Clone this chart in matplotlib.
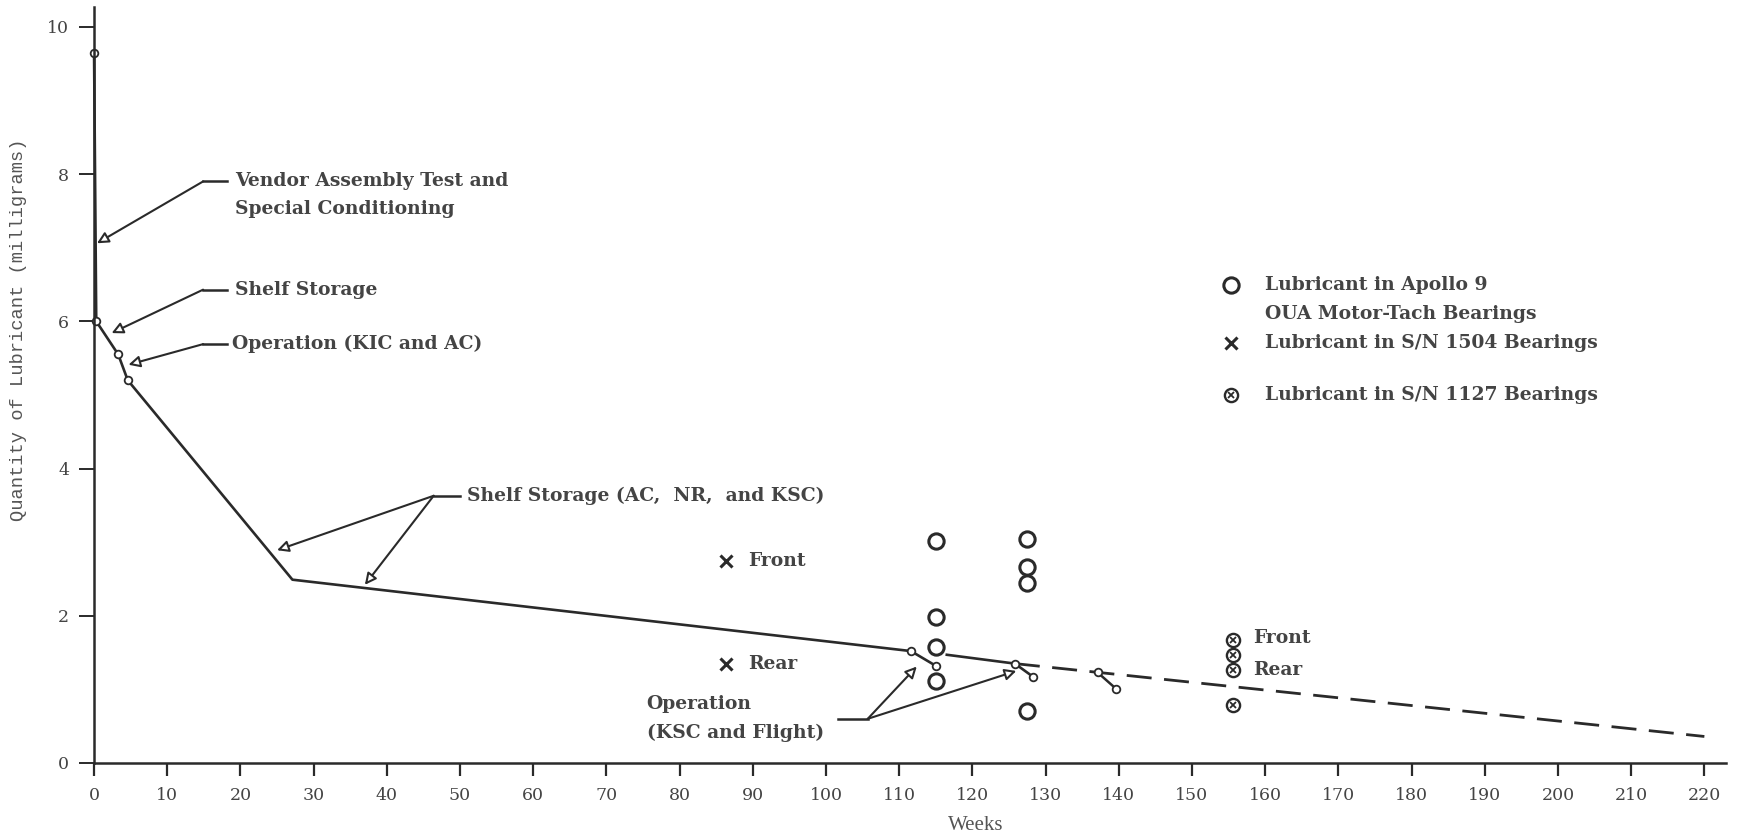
import matplotlib
matplotlib.use('Agg')
from matplotlib import pyplot as plt

# trend of lubricant quantity (solid part)
trend_x = [0, 0.3, 3.3, 4.6, 27.1, 111.6, 115.0]
trend_y = [9.65, 6.0, 5.55, 5.2, 2.49, 1.52, 1.32]
trend2_x = [116.5, 125.8, 128.3]
trend2_y = [1.47, 1.35, 1.17]
# projected trend (dashed)
proj_x = [125.8, 220.0]
proj_y = [1.35, 0.36]
# small step after 137 weeks
step_x = [137.1, 139.6]
step_y = [1.23, 1.01]
# small open circles on the trend
small_x = [0, 0.3, 3.3, 4.6, 111.6, 115.0, 125.8, 128.3, 137.1, 139.6]
small_y = [9.65, 6.0, 5.55, 5.2, 1.52, 1.32, 1.35, 1.17, 1.23, 1.01]

# Apollo 9 OUA motor-tach bearings
apollo_x = [115, 115, 115, 115, 127.5, 127.5, 127.5, 127.5]
apollo_y = [3.02, 1.98, 1.57, 1.12, 3.04, 2.66, 2.44, 0.71]
# S/N 1504 bearings (front, rear)
sn1504_x = [86.4, 86.4]
sn1504_y = [2.75, 1.35]
# S/N 1127 bearings
sn1127_x = [155.6, 155.6, 155.6, 155.6]
sn1127_y = [1.67, 1.47, 1.26, 0.79]

xticks = list(range(0, 221, 10))
yticks = [0, 2, 4, 6, 8, 10]

ink = '#2a2a2a'
txt = '#444444'
serif = 'DejaVu Serif'
fs = 13.5

fig = plt.figure(figsize=(17.45, 8.4), dpi=100)
ax = fig.add_axes([0.0539, 0.0917, 0.9354, 0.9])
ax.set_xlim(0, 223)
ax.set_ylim(0, 10.27)

ax.plot(trend_x, trend_y, color=ink, lw=1.9, clip_on=False)
ax.plot(trend2_x, trend2_y, color=ink, lw=1.9)
ax.plot(proj_x, proj_y, color=ink, lw=2.0, dashes=(9, 4.5))
ax.plot(step_x, step_y, color=ink, lw=1.8)
ax.plot(small_x, small_y, 'o', ms=5.5, mfc='white', mec=ink, mew=1.3, clip_on=False)

ax.plot(apollo_x, apollo_y, 'o', ms=11, mfc='none', mec=ink, mew=2.2)
ax.plot(sn1504_x, sn1504_y, 'x', ms=8.5, mec=ink, mew=2.2)
ax.plot(sn1127_x, sn1127_y, 'o', ms=9.5, mfc='white', mec=ink, mew=1.7)
ax.plot(sn1127_x, sn1127_y, 'x', ms=5, mec=ink, mew=1.3)

# point labels
ax.text(89.3, 2.75, 'Front', fontsize=fs, weight='bold', family=serif, color=txt, va='center')
ax.text(89.3, 1.35, 'Rear', fontsize=fs, weight='bold', family=serif, color=txt, va='center')
ax.text(158.3, 1.70, 'Front', fontsize=fs, weight='bold', family=serif, color=txt, va='center')
ax.text(158.3, 1.26, 'Rear', fontsize=fs, weight='bold', family=serif, color=txt, va='center')

# legend block drawn by hand like the original
ax.plot([155.3], [6.49], 'o', ms=11, mfc='none', mec=ink, mew=2.2)
ax.plot([155.3], [5.71], 'x', ms=8.5, mec=ink, mew=2.2)
ax.plot([155.3], [5.0], 'o', ms=9.5, mfc='white', mec=ink, mew=1.7)
ax.plot([155.3], [5.0], 'x', ms=5, mec=ink, mew=1.3)
legend_rows = [(6.49, 'Lubricant in Apollo 9'),
               (6.10, 'OUA Motor-Tach Bearings'),
               (5.71, 'Lubricant in S/N 1504 Bearings'),
               (5.0, 'Lubricant in S/N 1127 Bearings')]
for y, label in legend_rows:
    ax.text(160, y, label, fontsize=fs, weight='bold', family=serif, color=txt, va='center')

# annotations with leader lines and hollow arrow heads
arrow = dict(arrowstyle='-|>', fc='white', ec=ink, lw=1.5, mutation_scale=17, shrinkA=0, shrinkB=0)


def leader(text_x, text_y, corner_x, stub_x, tips, lines):
    ax.plot([corner_x, stub_x], [text_y, text_y], color=ink, lw=1.8)
    for tip in tips:
        ax.annotate('', xy=tip, xytext=(corner_x, text_y), arrowprops=arrow)
    for i, line in enumerate(lines):
        ax.text(text_x, text_y - i * 0.37, line, fontsize=fs, weight='bold', family=serif,
                color=txt, va='center')


leader(19.3, 7.90, 14.9, 18.2, [(0.4, 7.06)],
       ['Vendor Assembly Test and', 'Special Conditioning'])
leader(19.3, 6.43, 14.9, 18.2, [(2.4, 5.84)], ['Shelf Storage'])
leader(18.8, 5.69, 14.9, 18.2, [(4.7, 5.41)], ['Operation (KIC and AC)'])
leader(50.9, 3.63, 46.4, 50.0, [(25.0, 2.89), (37.0, 2.42)],
       ['Shelf Storage (AC,  NR,  and KSC)'])

# operation (KSC and Flight) leader goes to the right of its text
ax.plot([101.6, 105.7], [0.60, 0.60], color=ink, lw=1.8)
for tip in [(112.4, 1.31), (126.0, 1.25)]:
    ax.annotate('', xy=tip, xytext=(105.7, 0.60), arrowprops=arrow)
ax.text(75.5, 0.80, 'Operation', fontsize=fs, weight='bold', family=serif, color=txt, va='center')
ax.text(75.5, 0.41, '(KSC and Flight)', fontsize=fs, weight='bold', family=serif, color=txt, va='center')

# axes styling
for side in ['top', 'right']:
    ax.spines[side].set_visible(False)
for side in ['left', 'bottom']:
    ax.spines[side].set_linewidth(1.8)
    ax.spines[side].set_color(ink)
ax.set_xticks(xticks)
ax.set_yticks(yticks)
ax.tick_params(axis='x', direction='out', length=9.5, width=1.6, color=ink, pad=8,
               labelsize=12.5, labelcolor=txt)
ax.tick_params(axis='y', direction='out', length=11, width=1.4, color=ink, pad=7,
               labelsize=12.5, labelcolor=txt)
for lab in ax.get_xticklabels() + ax.get_yticklabels():
    lab.set_family(serif)

ax.set_xlabel('Weeks', fontsize=15, family='Liberation Serif', color='#555555')
ax.xaxis.set_label_coords(0.54, -0.07)
ax.set_ylabel('Quantity of Lubricant (milligrams)', fontsize=13.5,
              family='Liberation Mono', color='#555555')
ax.yaxis.set_label_coords(-0.041, 0.573)

fig.savefig('out.png', dpi=100)
